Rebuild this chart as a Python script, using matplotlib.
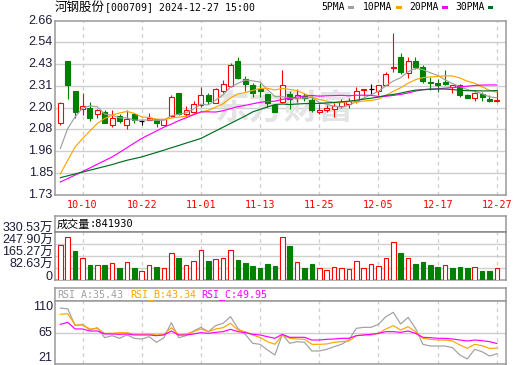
import matplotlib
matplotlib.use('Agg')
import matplotlib.pyplot as plt
from matplotlib.patches import Rectangle
from matplotlib.transforms import blended_transform_factory, ScaledTranslation

plt.rcParams['font.family'] = ['DejaVu Sans', 'Noto Sans CJK SC']

# ---------------- data ----------------
stock_name = "河钢股份"
title_rest = "[000709] 2024-12-27 15:00"
dates = ["09-30",
         "10-08", "10-09", "10-10", "10-11", "10-14", "10-15", "10-16", "10-17", "10-18",
         "10-21", "10-22", "10-23", "10-24", "10-25", "10-28", "10-29", "10-30", "10-31",
         "11-01", "11-04", "11-05", "11-06", "11-07", "11-08", "11-11", "11-12", "11-13",
         "11-14", "11-15", "11-18", "11-19", "11-20", "11-21", "11-22", "11-25", "11-26",
         "11-27", "11-28", "11-29", "12-02", "12-03", "12-04", "12-05", "12-06", "12-09",
         "12-10", "12-11", "12-12", "12-13", "12-16", "12-17", "12-18", "12-19", "12-20",
         "12-23", "12-24", "12-25", "12-26", "12-27"]
x_tick_labels = ["10-10", "10-22", "11-01", "11-13", "11-25", "12-05", "12-17", "12-27"]

opens = [2.115, 2.444, 2.283, 2.185, 2.190, 2.163, 2.170, 2.101, 2.149, 2.101,
         2.160, 2.125, 2.131, 2.133, 2.104, 2.149, 2.274, 2.160, 2.172, 2.208,
         2.261, 2.220, 2.286, 2.310, 2.444, 2.347, 2.315, 2.292, 2.270, 2.208,
         2.226, 2.270, 2.244, 2.256, 2.238, 2.172, 2.181, 2.186, 2.205, 2.213,
         2.229, 2.289, 2.292, 2.284, 2.317, 2.405, 2.463, 2.378, 2.444, 2.410,
         2.333, 2.324, 2.333, 2.303, 2.315, 2.261, 2.244, 2.270, 2.239, 2.228]
closes = [2.222, 2.318, 2.172, 2.203, 2.140, 2.181, 2.111, 2.137, 2.122, 2.133,
          2.128, 2.125, 2.140, 2.113, 2.133, 2.249, 2.160, 2.181, 2.212, 2.261,
          2.231, 2.292, 2.320, 2.422, 2.355, 2.319, 2.274, 2.285, 2.220, 2.172,
          2.315, 2.240, 2.260, 2.248, 2.181, 2.181, 2.195, 2.204, 2.223, 2.229,
          2.283, 2.292, 2.292, 2.315, 2.374, 2.410, 2.386, 2.444, 2.413, 2.336,
          2.325, 2.318, 2.321, 2.313, 2.260, 2.244, 2.274, 2.252, 2.231, 2.234]
highs = [2.225, 2.444, 2.283, 2.274, 2.226, 2.188, 2.181, 2.181, 2.160, 2.181,
         2.167, 2.131, 2.167, 2.136, 2.136, 2.261, 2.274, 2.201, 2.230, 2.306,
         2.274, 2.300, 2.344, 2.433, 2.467, 2.363, 2.327, 2.327, 2.270, 2.213,
         2.395, 2.286, 2.292, 2.274, 2.256, 2.213, 2.208, 2.220, 2.239, 2.244,
         2.304, 2.292, 2.320, 2.316, 2.386, 2.594, 2.485, 2.465, 2.465, 2.425,
         2.356, 2.348, 2.395, 2.316, 2.320, 2.270, 2.276, 2.280, 2.260, 2.288]
lows = [2.101, 2.243, 2.138, 2.154, 2.122, 2.140, 2.110, 2.092, 2.115, 2.079,
        2.115, 2.104, 2.127, 2.092, 2.100, 2.145, 2.155, 2.149, 2.165, 2.200,
        2.213, 2.217, 2.274, 2.305, 2.350, 2.284, 2.252, 2.249, 2.197, 2.172,
        2.222, 2.185, 2.226, 2.230, 2.172, 2.163, 2.172, 2.142, 2.192, 2.195,
        2.218, 2.258, 2.260, 2.260, 2.313, 2.386, 2.372, 2.354, 2.400, 2.324,
        2.290, 2.280, 2.315, 2.274, 2.253, 2.244, 2.229, 2.230, 2.226, 2.226]

ma5 = [1.976, 2.083, 2.145, 2.192, 2.204, 2.199, 2.160, 2.154, 2.140, 2.140,
       2.127, 2.128, 2.129, 2.127, 2.127, 2.151, 2.159, 2.167, 2.187, 2.213,
       2.209, 2.235, 2.263, 2.305, 2.324, 2.342, 2.338, 2.331, 2.291, 2.254,
       2.253, 2.246, 2.241, 2.247, 2.249, 2.222, 2.213, 2.202, 2.197, 2.206,
       2.227, 2.246, 2.264, 2.282, 2.311, 2.337, 2.355, 2.386, 2.405, 2.398,
       2.381, 2.367, 2.343, 2.323, 2.307, 2.291, 2.282, 2.269, 2.252, 2.247]
ma10 = [1.840, 1.913, 1.984, 2.029, 2.070, 2.110, 2.137, 2.154, 2.166, 2.174,
        2.164, 2.145, 2.142, 2.133, 2.132, 2.139, 2.144, 2.148, 2.157, 2.170,
        2.180, 2.197, 2.215, 2.246, 2.268, 2.275, 2.287, 2.297, 2.298, 2.289,
        2.297, 2.292, 2.286, 2.269, 2.251, 2.238, 2.230, 2.222, 2.222, 2.228,
        2.224, 2.230, 2.233, 2.240, 2.259, 2.282, 2.301, 2.325, 2.344, 2.355,
        2.359, 2.361, 2.364, 2.364, 2.353, 2.336, 2.325, 2.306, 2.287, 2.277]
ma20 = [1.797, 1.815, 1.834, 1.853, 1.872, 1.892, 1.911, 1.931, 1.955, 1.980,
        2.005, 2.030, 2.050, 2.070, 2.090, 2.106, 2.125, 2.140, 2.157, 2.172,
        2.172, 2.171, 2.178, 2.189, 2.200, 2.207, 2.215, 2.223, 2.228, 2.229,
        2.239, 2.245, 2.251, 2.257, 2.260, 2.256, 2.258, 2.259, 2.260, 2.258,
        2.261, 2.261, 2.260, 2.254, 2.255, 2.260, 2.265, 2.273, 2.283, 2.291,
        2.292, 2.295, 2.299, 2.302, 2.306, 2.309, 2.313, 2.315, 2.316, 2.316]
ma30 = [1.820, 1.830, 1.840, 1.850, 1.860, 1.870, 1.880, 1.890, 1.902, 1.913,
        1.922, 1.931, 1.943, 1.955, 1.967, 1.980, 1.992, 2.005, 2.017, 2.030,
        2.050, 2.070, 2.090, 2.110, 2.130, 2.150, 2.172, 2.185, 2.198, 2.211,
        2.214, 2.211, 2.214, 2.216, 2.217, 2.217, 2.220, 2.222, 2.226, 2.229,
        2.234, 2.240, 2.245, 2.251, 2.260, 2.265, 2.272, 2.281, 2.288, 2.290,
        2.294, 2.294, 2.294, 2.291, 2.288, 2.285, 2.285, 2.284, 2.284, 2.286]

volume_wan = [243.0, 296.0, 204.0, 151.5, 105.0, 105.0, 105.0, 117.0, 87.0, 124.0,
              87.0, 62.0, 103.0, 91.6, 85.0, 186.0, 153.6, 103.0, 131.0, 208.6,
              133.0, 144.6, 153.6, 208.6, 142.0, 119.0, 98.5, 87.0, 112.0, 100.5,
              296.0, 236.0, 124.0, 87.0, 112.0, 85.0, 69.0, 89.5, 82.6, 75.7,
              131.0, 82.6, 110.0, 96.0, 153.6, 261.7, 188.0, 153.6, 112.0, 126.0,
              105.0, 91.6, 103.0, 87.0, 91.6, 87.0, 89.5, 66.0, 66.0, 84.193]
volume_up = [1, 1, 0, 1, 0, 1, 0, 1, 0, 1,
             0, 1, 1, 0, 1, 1, 0, 1, 1, 1,
             0, 1, 1, 1, 0, 0, 0, 0, 0, 0,
             1, 0, 1, 0, 0, 1, 1, 1, 1, 1,
             1, 1, 1, 1, 1, 1, 0, 1, 0, 0,
             0, 0, 1, 0, 0, 0, 1, 0, 0, 1]
last_volume = "841930"

rsi_a = [100, 99, 75.2, 77, 69, 72.3, 58.2, 61, 57.3, 62,
         57.3, 56.3, 59.6, 51.6, 58.2, 79.4, 58.2, 61, 67.6, 72.8,
         66.7, 75.2, 78.5, 87.9, 71.4, 62.9, 50.2, 48.8, 40.8, 33.7,
         62.9, 50.2, 52.6, 51.6, 39.4, 39.4, 41.7, 45.5, 48.8, 54.9,
         71.4, 72.8, 72.8, 77, 87.9, 94, 77.5, 86.9, 71.4, 48.8,
         46.4, 46.4, 46.4, 44.1, 33.7, 28.1, 41.7, 38.4, 32.3, 35.43]
rsi_b = [91.2, 92, 76.1, 76.1, 70.5, 71.4, 64.3, 64.3, 65.3, 65.3,
         63.4, 62.9, 63.4, 62, 62.9, 72.3, 62, 63.4, 66.7, 70.5,
         66.7, 70.5, 72.3, 78.5, 69, 66.7, 62, 58.5, 52.6, 48.8,
         62, 57.3, 56.3, 55.9, 48.8, 48.8, 49.3, 51.6, 52.6, 53.5,
         61, 62, 62, 64.3, 70.5, 75.2, 69, 73.7, 66.7, 57.3,
         55.9, 54.9, 54.9, 53.5, 47.9, 43.1, 48.8, 46.9, 43.1, 43.34]
rsi_c = [77, 79.9, 70.5, 70.5, 67.6, 67.6, 63.4, 63.4, 62.9, 63.4,
         62, 62, 62, 61, 62, 67.6, 62, 62, 63.4, 65.3,
         64.3, 65.7, 66.7, 70, 66.7, 65.3, 62.9, 62, 59.6, 57.3,
         62.9, 58.7, 58.7, 58.7, 54.9, 54.9, 55.9, 56.3, 57.3, 57.3,
         61, 62, 62.9, 64.3, 66.7, 66.7, 65.7, 67.6, 64.3, 58.7,
         58.2, 57.3, 57.3, 56.3, 54.9, 53.5, 54.9, 54, 52.6, 49.95]

price_ticks = [1.73, 1.84625, 1.9625, 2.07875, 2.195, 2.31125, 2.4275, 2.54375, 2.66]
price_tick_labels = ["1.73", "1.85", "1.96", "2.08", "2.20", "2.31", "2.43", "2.54", "2.66"]
vol_ticks = [0, 82.63, 165.27, 247.90, 330.53]
vol_tick_labels = ["0", "82.63万", "165.27万", "247.90万", "330.53万"]
rsi_ticks = [21, 65, 110]
rsi_tick_labels = ["21", "65", "110"]

ma_names = ["5PMA", "10PMA", "20PMA", "30PMA"]
rsi_names = ["RSI_A", "RSI_B", "RSI_C"]

# ---------------- style ----------------
RED = '#ff0000'
GREEN = '#008000'
C_MA = ['#a0a0a0', '#ffa500', '#ff00ff', '#006e1e']
C_RSI = ['#a0a0a0', '#ffa500', '#ff00ff']
GRID = '#cfcfcf'
SPINE = '#999999'
LABEL = '#1c1c3c'

W, H = 520, 365
fig = plt.figure(figsize=(W / 100, H / 100), dpi=100)
fig.patch.set_facecolor('white')


def rect(x0, y0, x1, y1):
    return [x0 / W, 1 - y1 / H, (x1 - x0) / W, (y1 - y0) / H]


L, R = 55, 505.6
ax = fig.add_axes(rect(L, 20.6, R, 194.5))
axvh = fig.add_axes(rect(L, 216, R, 232.3))
axv = fig.add_axes(rect(L, 232.3, R, 280.3))
axrh = fig.add_axes(rect(L, 288.3, R, 301))
axr = fig.add_axes(rect(L, 301, R, 364))

n = len(closes)
xs = list(range(n))
xlim = (-0.72, n - 1 + 1.18)
tick_pos = [dates.index(d) for d in x_tick_labels]

for a in (ax, axvh, axv, axrh, axr):
    a.set_xlim(*xlim)
    a.set_xticks([])
    a.set_yticks([])
    for s in a.spines.values():
        s.set_color(SPINE)
        s.set_linewidth(1.1)

for a in (ax, axv, axr):
    for p in tick_pos:
        a.axvline(p, color=GRID, lw=0.9, ls=(0, (3, 3)), zorder=0)

# ---------------- main price panel ----------------
ax.set_ylim(price_ticks[0], price_ticks[-1])
for v in price_ticks[1:-1]:
    ax.axhline(v, color=GRID, lw=1.0, zorder=0)

ax.text(0.51, 0.5, "东方财富", transform=ax.transAxes, fontsize=25, color='#e4e4e4',
        weight='bold', ha='center', va='center', zorder=0.5, family='Noto Sans CJK SC')

bw = 0.66
for i in xs:
    o, c, h, l = opens[i], closes[i], highs[i], lows[i]
    if abs(c - o) < 1e-9:
        ax.vlines(i, l, h, color='black', lw=0.8, zorder=2)
        ax.hlines(o, i - bw / 2, i + bw / 2, color='black', lw=0.9, zorder=3)
        continue
    if c > o:
        col, fc = RED, 'white'
    else:
        col, fc = GREEN, GREEN
    ax.vlines(i, l, h, color=col, lw=0.8, zorder=2)
    bottom = min(o, c)
    height = max(abs(c - o), 0.002)
    ax.add_patch(Rectangle((i - bw / 2, bottom), bw, height, facecolor=fc,
                           edgecolor=col, lw=0.8, zorder=3))

for ma, col in zip([ma5, ma10, ma20, ma30], C_MA):
    ax.plot(xs, ma, color=col, lw=0.85, zorder=4)

tr = blended_transform_factory(ax.transAxes, ax.transData)
for v, lab in zip(price_ticks, price_tick_labels):
    ax.text(-0.005, v, lab, transform=tr, ha='right', va='center', fontsize=9,
            color=LABEL, family='Liberation Sans', clip_on=False)

trx = blended_transform_factory(ax.transData, ax.transAxes) + \
    ScaledTranslation(0, -10.5 / 100, fig.dpi_scale_trans)
for p, lab in zip(tick_pos, x_tick_labels):
    ax.text(p, 0, lab, transform=trx, ha='center', va='center', fontsize=7.3,
            color=RED, family='DejaVu Sans Mono', clip_on=False)

# title + legend
fig.text(55 / W, 1 - 7.5 / H, stock_name, ha='left', va='center', fontsize=9,
         family='Noto Sans CJK SC', color='black')
fig.text(105 / W, 1 - 7.5 / H, title_rest, ha='left', va='center', fontsize=7.1,
         family='DejaVu Sans Mono', color='black')
leg_x = [321.7, 363, 409, 455]
box_x = [348, 396, 442, 487.5]
for name, col, tx, bx in zip(ma_names, C_MA, leg_x, box_x):
    fig.text(tx / W, 1 - 7.5 / H, name, ha='left', va='center', fontsize=7,
             family='DejaVu Sans Mono', color='black')
    fig.patches.append(Rectangle((bx / W, 1 - 9.0 / H), 5.5 / W, 3.3 / H,
                                 transform=fig.transFigure, facecolor=col,
                                 edgecolor='none'))

# ---------------- volume panel ----------------
axvh.set_ylim(0, 1)
axvh.text(57 / W, 0.5, "", transform=axvh.transAxes)
fig.text(57 / W, 1 - 224.3 / H, "成交量", ha='left', va='center', fontsize=8,
         family='Noto Sans CJK SC', color='black')
fig.text(90 / W, 1 - 224.3 / H, ":" + last_volume, ha='left', va='center', fontsize=7.5,
         family='DejaVu Sans Mono', color='black')

axv.set_ylim(vol_ticks[0], vol_ticks[-1])
for v in vol_ticks[1:-1]:
    axv.axhline(v, color=GRID, lw=1.0, zorder=0)
vcols = [RED if u else GREEN for u in volume_up]
vfaces = ['white' if u else GREEN for u in volume_up]
axv.bar(xs, volume_wan, width=0.64, color=vfaces, edgecolor=vcols, lw=0.8, zorder=3)
trv = blended_transform_factory(axv.transAxes, axv.transData) + \
    ScaledTranslation(0, 3 / 100, fig.dpi_scale_trans)
for v, lab in zip(vol_ticks, vol_tick_labels):
    axv.text(-0.005, v, lab, transform=trv, ha='right', va='center', fontsize=9,
             color=LABEL, family=['Liberation Sans', 'Noto Sans CJK SC'], clip_on=False)
axv.spines['top'].set_color('#888888')

# ---------------- RSI panel ----------------
rsi_vals = [rsi_a[-1], rsi_b[-1], rsi_c[-1]]
hx = [57.3, 130, 201.7]
for name, val, col, x0 in zip(rsi_names, rsi_vals, C_RSI, hx):
    fig.text(x0 / W, 1 - 295 / H, f"{name}:{val:.2f}", ha='left', va='center',
             fontsize=7.2, family='DejaVu Sans Mono', color=col)

axr.set_ylim(rsi_ticks[0], rsi_ticks[-1])
axr.axhline(rsi_ticks[1], color=GRID, lw=1.0, zorder=0)
for vals, col in zip([rsi_a, rsi_b, rsi_c], C_RSI):
    axr.plot(xs, vals, color=col, lw=0.85, zorder=3)
trr = blended_transform_factory(axr.transAxes, axr.transData)
vas = ['bottom', 'center', 'top']
for v, lab, va in zip(rsi_ticks, rsi_tick_labels, vas):
    axr.text(-0.005, v, lab, transform=trr, ha='right', va=va, fontsize=9,
             color=LABEL, family='Liberation Sans', clip_on=False)

fig.savefig('out.png', dpi=100, facecolor='white')
